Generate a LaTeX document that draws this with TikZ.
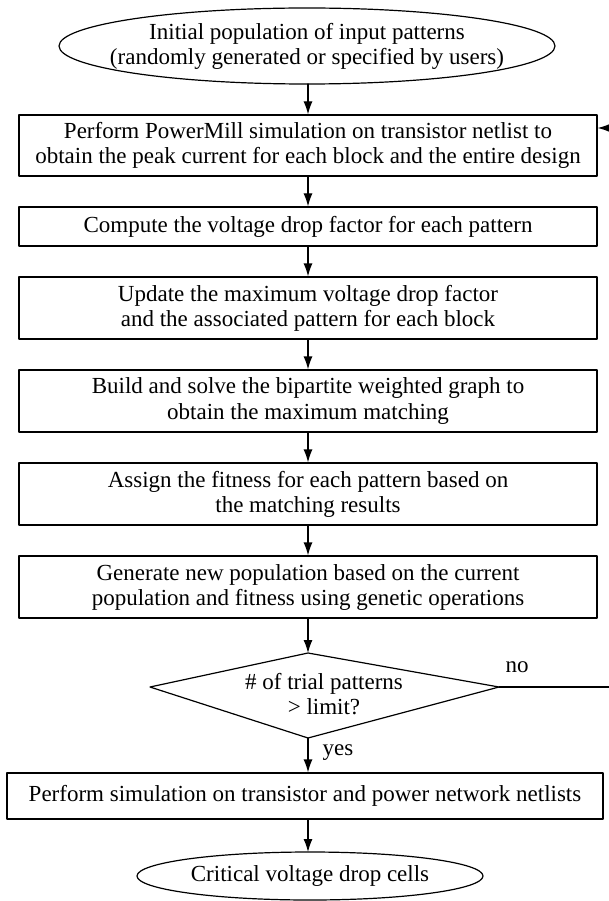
\documentclass[tikz,border=0pt]{standalone}
\usepackage{fontspec}
\setmainfont{Liberation Serif}
\usetikzlibrary{arrows.meta,positioning,shapes.geometric}

\begin{document}
\begin{tikzpicture}[x=1pt,y=-1pt,line cap=round,line join=round,
  every node/.style={font=\fontsize{23}{25}\selectfont,align=center},
  stepbox/.style={draw,line width=1.2pt,minimum width=578pt,minimum height=62pt,inner sep=0pt},
  flow/.style={-{Latex[length=13pt,width=9pt]},line width=1.2pt}]
\path[use as bounding box] (0,0) rectangle (608,901);
\node (init) at (307,46) {Initial population of input patterns\\(randomly generated or specified by users)};
\draw[line width=1.2pt] (init.center) ellipse [x radius=248, y radius=38];
\coordinate (initbot) at (308,84);
\node[stepbox,minimum height=61pt] (sim) at (308,145.5) {Perform PowerMill simulation on transistor netlist to\\obtain the peak current for each block and the entire design};
\node[stepbox,minimum height=39pt] (vdf) at (308,226.5) {Compute the voltage drop factor for each pattern};
\node[stepbox] (upd) at (308,308) {Update the maximum voltage drop factor\\and the associated pattern for each block};
\node[stepbox] (bip) at (308,401) {Build and solve the bipartite weighted graph to\\obtain the maximum matching};
\node[stepbox] (fit) at (308,494) {Assign the fitness for each pattern based on\\the matching results};
\node[stepbox] (gen) at (308,587) {Generate new population based on the current\\population and fitness using genetic operations};
\coordinate (dl) at (150,687);
\coordinate (dt) at (308,653);
\coordinate (dr) at (499,687);
\coordinate (db) at (308,738);
\draw[line width=1.2pt] (dl) -- (dt) -- (dr) -- (db) -- cycle;
\node (cond) at (324,694) {\# of trial patterns\\> limit?};
\node[stepbox,minimum width=596pt,minimum height=46pt] (full) at (305,796) {Perform simulation on transistor and power network netlists};
\node (crit) at (310,876) {Critical voltage drop cells};
\draw[line width=1.2pt] (crit.center) ellipse [x radius=173, y radius=24];
\coordinate (crittop) at (308,852);
\node (no) at (517,667) {no};
\node (yes) at (338,753) {yes};
\coordinate (back) at (614,128);
\draw[flow] (initbot) -- (sim.north);
\draw[flow] (sim) -- (vdf);
\draw[flow] (vdf) -- (upd);
\draw[flow] (upd) -- (bip);
\draw[flow] (bip) -- (fit);
\draw[flow] (fit) -- (gen);
\draw[flow] (gen.south) -- (dt);
\draw[flow] (db) -- (db |- full.north);
\draw[flow] (full.south -| db) -- (crittop);
\draw[line width=1.2pt] (dr) -- (dr -| back) -- (back);
\draw[flow] (back) -- (sim.east |- back);
\end{tikzpicture}
\end{document}
